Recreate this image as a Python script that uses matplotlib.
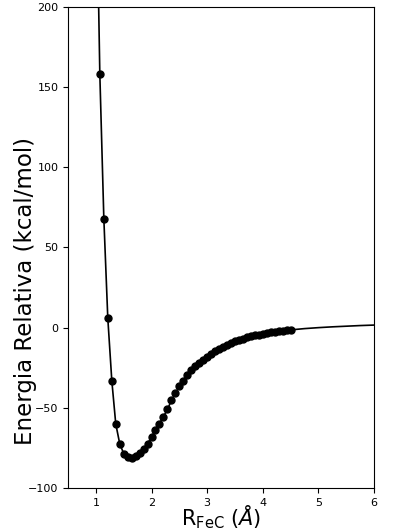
import matplotlib
matplotlib.use('Agg')
import matplotlib.pyplot as plt

# scan points (R in Angstrom, relative energy in kcal/mol)
r_pts = [1.071, 1.143, 1.214, 1.286, 1.357, 1.429, 1.500, 1.571, 1.643, 1.714,
         1.786, 1.857, 1.929, 2.000, 2.071, 2.143, 2.214, 2.286, 2.357, 2.429,
         2.500, 2.571, 2.643, 2.714, 2.786, 2.857, 2.929, 3.000, 3.071, 3.143,
         3.214, 3.286, 3.357, 3.429, 3.500, 3.571, 3.643, 3.714, 3.786, 3.857,
         3.929, 4.000, 4.071, 4.143, 4.214, 4.286, 4.357, 4.429, 4.500]
e_pts = [158.0, 68.0, 6.0, -33.0, -60.0, -72.5, -78.5, -80.8, -81.2, -80.3,
         -78.2, -75.6, -72.5, -68.0, -64.0, -59.8, -55.5, -51.0, -45.4, -40.9,
         -36.7, -33.2, -29.6, -26.7, -24.2, -21.9, -19.9, -18.1, -16.3, -14.6,
         -13.1, -11.8, -10.6, -9.5, -8.5, -7.6, -6.8, -6.1, -5.4, -4.8,
         -4.3, -3.8, -3.4, -3.0, -2.6, -2.3, -2.0, -1.7, -1.4]

# fitted curve beyond the scan range
r_head = [1.045]
e_head = [210.0]
r_tail = [4.75, 5.0, 5.25, 5.5, 5.75, 6.0]
e_tail = [-0.6, 0.0, 0.5, 0.9, 1.3, 1.6]

fig = plt.figure(figsize=(3.98, 5.28), dpi=100)
ax = fig.add_axes([0.171, 0.0758, 0.769, 0.911])

ax.plot(r_head + r_pts + r_tail, e_head + e_pts + e_tail, color='black', lw=1.2)
ax.plot(r_pts, e_pts, 'o', color='black', ms=5)

ax.set_xlim(0.5, 6)
ax.set_ylim(-100, 200)
ax.tick_params(labelsize=8)
ax.set_xlabel(r'R$_{\mathrm{FeC}}$ ($\AA$)', fontsize=15)
ax.set_ylabel('Energia Relativa (kcal/mol)', fontsize=16.5)
ax.xaxis.set_label_coords(0.5, -0.033, transform=ax.transAxes)
ax.xaxis.label.set_va('top')
ax.yaxis.set_label_coords(-0.14, 0.41, transform=ax.transAxes)
ax.yaxis.label.set_va('center')

fig.savefig('out.png', dpi=100)
